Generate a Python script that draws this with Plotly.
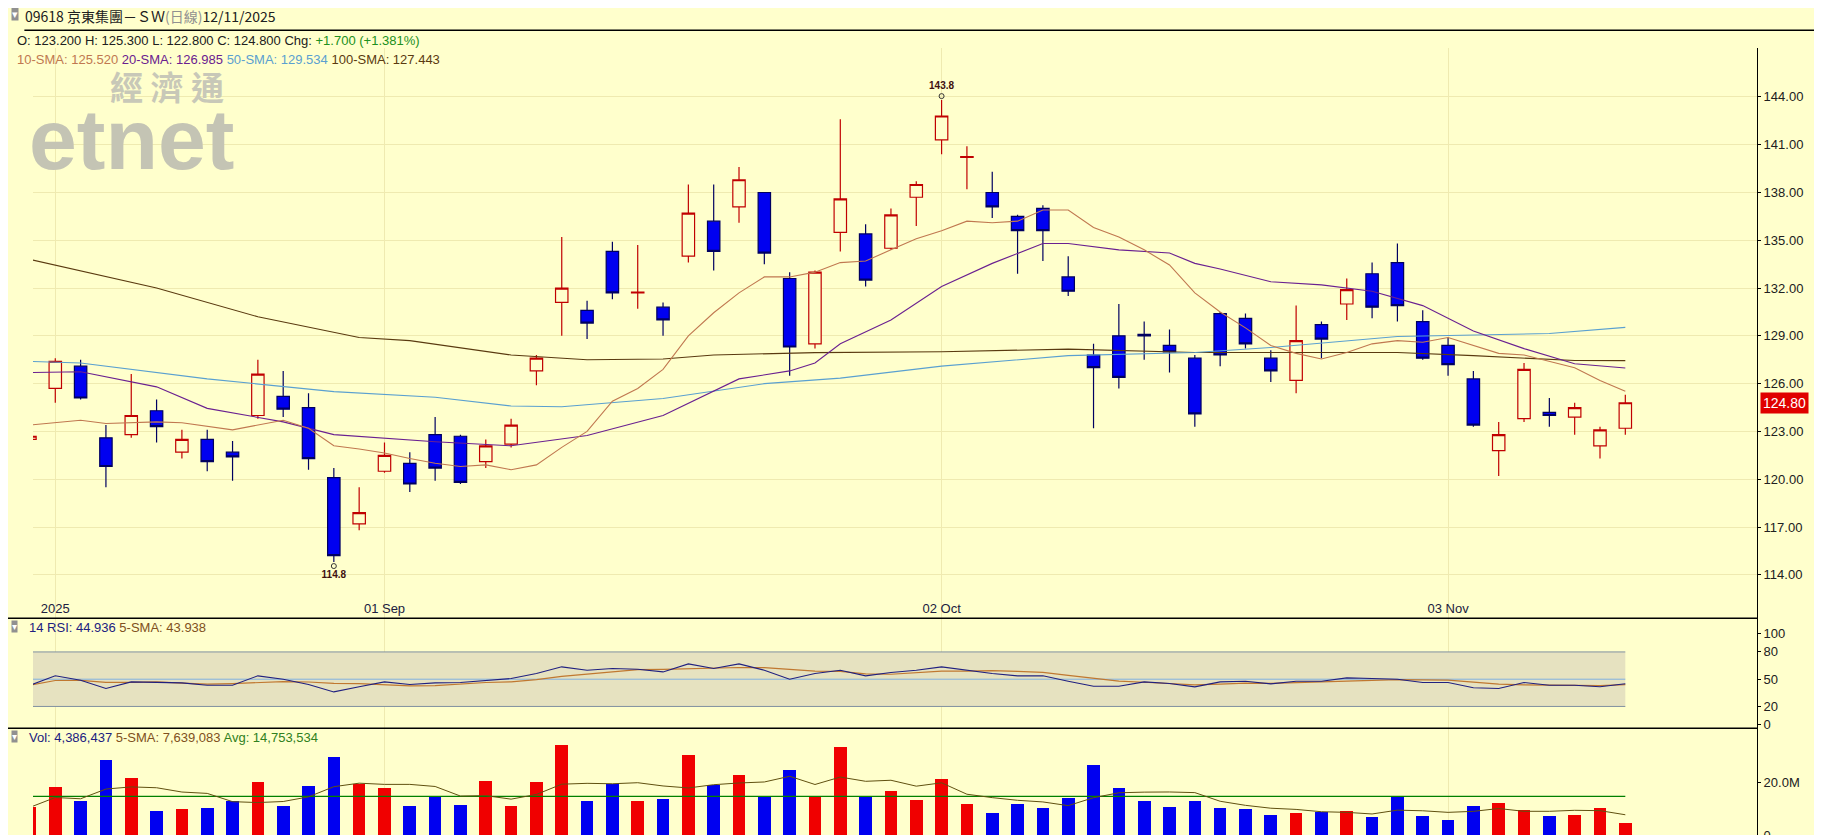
import pandas as pd
import plotly.graph_objects as go

# Días de negociación (HKEX), del 12 ago al 12 nov 2025
FECHAS = [
    "2025-08-12", "2025-08-13", "2025-08-14", "2025-08-15", "2025-08-18", "2025-08-19",
    "2025-08-20", "2025-08-21", "2025-08-22", "2025-08-25", "2025-08-26", "2025-08-27",
    "2025-08-28", "2025-08-29", "2025-09-01", "2025-09-02", "2025-09-03", "2025-09-04",
    "2025-09-05", "2025-09-08", "2025-09-09", "2025-09-10", "2025-09-11", "2025-09-12",
    "2025-09-15", "2025-09-16", "2025-09-17", "2025-09-18", "2025-09-19", "2025-09-22",
    "2025-09-23", "2025-09-24", "2025-09-25", "2025-09-26", "2025-09-29", "2025-09-30",
    "2025-10-02", "2025-10-03", "2025-10-06", "2025-10-08", "2025-10-09", "2025-10-10",
    "2025-10-13", "2025-10-14", "2025-10-15", "2025-10-16", "2025-10-17", "2025-10-20",
    "2025-10-21", "2025-10-22", "2025-10-23", "2025-10-24", "2025-10-27", "2025-10-28",
    "2025-10-30", "2025-10-31", "2025-11-03", "2025-11-04", "2025-11-05", "2025-11-06",
    "2025-11-07", "2025-11-10", "2025-11-11", "2025-11-12",
]

APERTURA = [122.5, 125.7, 127.1, 122.6, 122.8, 124.3, 121.7, 122.5, 121.7, 124.0, 125.2, 124.5,
            120.1, 117.2, 120.5, 121.0, 122.8, 122.7, 121.1, 122.2, 126.8, 131.1, 130.6, 134.3,
            131.7, 130.8, 134.0, 136.2, 137.1, 138.0, 132.6, 128.5, 135.5, 135.4, 134.5, 137.7,
            141.3, 140.2, 138.0, 136.5, 137.0, 132.7, 127.8, 129.0, 129.1, 128.4, 127.6, 130.4,
            130.1, 127.6, 126.2, 129.7, 131.0, 132.9, 133.6, 129.9, 128.4, 126.3, 121.8, 123.8,
            124.2, 123.9, 122.1, 123.2]
MAXIMO = [122.8, 127.6, 127.5, 123.4, 126.6, 125.0, 123.1, 123.1, 122.4, 127.5, 126.8, 125.4,
          120.7, 119.5, 122.3, 121.7, 123.9, 122.8, 122.5, 123.8, 127.8, 135.2, 131.2, 134.9,
          134.7, 131.1, 138.5, 138.5, 139.6, 138.0, 133.0, 133.1, 142.6, 136.0, 137.0, 138.7,
          143.8, 140.9, 139.3, 136.6, 137.2, 134.0, 128.5, 131.0, 129.9, 129.4, 127.8, 130.5,
          130.4, 128.1, 130.9, 129.9, 132.6, 133.6, 134.8, 130.6, 128.9, 126.8, 123.6, 127.3,
          125.1, 124.8, 123.3, 125.3]
MINIMO = [122.3, 124.8, 125.0, 119.5, 122.6, 122.3, 121.3, 120.5, 119.9, 123.8, 123.9, 120.6,
          114.8, 116.8, 120.4, 119.2, 119.9, 119.7, 120.7, 122.0, 125.9, 129.0, 128.8, 131.3,
          130.7, 129.0, 133.6, 133.1, 136.1, 133.5, 126.5, 128.2, 134.3, 132.1, 134.4, 135.9,
          140.4, 138.2, 136.4, 132.9, 133.7, 131.5, 123.2, 125.7, 127.5, 126.7, 123.3, 127.1,
          128.2, 126.1, 125.4, 127.6, 130.0, 130.1, 129.9, 127.5, 126.5, 123.3, 120.2, 123.6,
          123.3, 122.8, 121.3, 122.8]
CIERRE = [122.7, 127.4, 125.1, 120.8, 124.0, 123.3, 122.5, 121.1, 121.4, 126.6, 124.4, 121.3,
          115.2, 117.9, 121.5, 119.7, 120.7, 119.8, 122.1, 123.4, 127.6, 132.0, 129.8, 131.7,
          131.75, 130.0, 136.7, 134.3, 138.8, 134.2, 128.3, 133.0, 137.6, 132.5, 136.6, 138.5,
          142.8, 140.25, 137.1, 135.6, 135.6, 131.8, 127.0, 126.4, 129.0, 128.0, 124.1, 127.8,
          128.5, 126.8, 128.7, 128.8, 131.9, 130.8, 130.9, 127.6, 127.2, 123.4, 122.8, 126.9,
          124.0, 124.5, 123.1, 124.8]

# Medias móviles: (índice, valor)
SMA10 = [(0, 123.4), (2, 123.7), (3, 123.5), (5, 123.6), (6, 123.55), (8, 123.1), (10, 123.7),
         (11, 123.2), (12, 122.1), (13, 121.9), (14, 121.65), (15, 121.3), (16, 121.0),
         (17, 120.8), (18, 120.9), (19, 120.6), (20, 120.9), (21, 122.0), (22, 123.0),
         (23, 124.9), (24, 125.7), (25, 126.9), (26, 129.0), (27, 130.45), (28, 131.7),
         (29, 132.7), (30, 132.7), (31, 133.0), (32, 133.6), (33, 133.7), (34, 134.4),
         (35, 135.1), (36, 135.6), (37, 136.2), (38, 136.1), (39, 136.2), (40, 136.9),
         (41, 136.9), (42, 135.8), (43, 135.2), (44, 134.4), (45, 133.45), (46, 131.7),
         (47, 130.5), (48, 129.5), (49, 128.4), (50, 127.9), (51, 127.55), (52, 127.96),
         (53, 128.5), (54, 128.7), (55, 128.6), (56, 128.9), (57, 128.4), (58, 127.9),
         (59, 127.8), (60, 127.4), (61, 127.0), (62, 126.2), (63, 125.52)]
SMA20 = [(0, 126.7), (2, 126.75), (5, 125.8), (7, 124.45), (10, 123.6), (12, 122.8),
         (16, 122.35), (19, 122.1), (22, 122.75), (25, 124.0), (28, 126.3), (30, 126.8),
         (31, 127.3), (32, 128.5), (34, 130.0), (36, 132.1), (38, 133.55), (40, 134.8),
         (41, 134.8), (43, 134.4), (45, 134.2), (46, 133.55), (47, 133.2), (49, 132.4),
         (51, 132.2), (53, 131.8), (55, 130.9), (57, 129.3), (59, 128.2), (61, 127.25),
         (63, 126.985)]
SMA50 = [(0, 127.4), (2, 127.3), (7, 126.3), (12, 125.5), (16, 125.15), (19, 124.6),
         (21, 124.55), (25, 125.07), (29, 126.0), (32, 126.35), (36, 127.1), (41, 127.76),
         (46, 127.96), (49, 128.27), (54, 128.96), (60, 129.15), (63, 129.534)]
SMA100 = [(0, 133.8), (5, 132.0), (9, 130.2), (13, 128.9), (15, 128.7), (19, 127.8),
          (22, 127.5), (25, 127.55), (27, 127.8), (31, 127.95), (36, 128.0), (41, 128.17),
          (46, 127.96), (54, 127.96), (57, 127.76), (61, 127.45), (63, 127.443)]

RSI = [43.4, 53.7, 48.9, 39.7, 47.0, 46.3, 46.0, 43.4, 43.4, 53.7, 50.0, 44.1, 36.0, 41.6,
       47.0, 44.1, 46.0, 46.3, 48.5, 50.7, 56.2, 63.6, 59.9, 61.7, 61.0, 58.0, 66.8, 61.7,
       66.8, 59.9, 50.0, 56.2, 59.9, 53.7, 57.3, 59.9, 63.6, 59.9, 56.2, 53.7, 53.7, 47.8,
       42.3, 42.3, 47.0, 45.2, 41.6, 47.0, 47.8, 44.9, 47.8, 47.8, 51.5, 50.7, 50.0, 46.3,
       46.3, 40.5, 39.7, 46.3, 43.4, 43.4, 41.6, 44.936]

VOLUMEN = [10.6, 18.1, 12.9, 28.7, 21.7, 9.0, 9.9, 10.3, 12.9, 20.0, 11.0, 18.8, 29.7, 19.6,
           17.7, 11.0, 14.8, 11.4, 20.4, 11.0, 20.0, 34.4, 13.0, 19.6, 13.0, 13.8, 30.6, 19.2,
           22.9, 14.9, 24.7, 14.9, 33.4, 14.8, 16.9, 13.4, 21.3, 11.6, 8.3, 11.8, 10.3, 14.2,
           26.8, 17.7, 13.0, 10.6, 13.0, 10.3, 9.9, 7.5, 8.3, 8.6, 9.1, 6.8, 14.8, 7.1, 5.6,
           11.0, 12.2, 9.5, 7.1, 7.5, 10.3, 4.386437]
DIR_VOLUMEN = "RRBBRBRBBRBBBRRBBBRRRRBBRBRBRBBRRBRRRRBBBBBBBBBBBBRBRBBBBBRRBRRR"
VOL_PROMEDIO = 14.753534

ETIQUETAS_X = {"2025-08-13": "2025", "2025-09-01": "01 Sep", "2025-10-02": "02 Oct",
               "2025-11-03": "03 Nov"}

FONDO = "#FFFFCC"
REJILLA = "#EFEAB0"
FUENTE = "Liberation Sans"
D1 = 0.279   # límite precio / RSI
D2 = 0.140   # límite RSI / volumen


def main():
    df = pd.DataFrame({"o": APERTURA, "h": MAXIMO, "l": MINIMO, "c": CIERRE}, index=FECHAS)
    rsi_sma = pd.Series(RSI).rolling(5, min_periods=1).mean()
    vol_sma = pd.Series(VOLUMEN).rolling(5, min_periods=1).mean()

    fig = go.Figure()

    fig.add_trace(go.Candlestick(
        x=FECHAS, open=df["o"], high=df["h"], low=df["l"], close=df["c"],
        increasing=dict(line=dict(color="#C00000", width=1.2), fillcolor=FONDO),
        decreasing=dict(line=dict(color="#000060", width=1.2), fillcolor="#0000F0"),
        whiskerwidth=0, xaxis="x", yaxis="y", hoverinfo="skip",
    ))

    for datos, color in [(SMA100, "#5A3A10"), (SMA50, "#5AA0D0"), (SMA20, "#6A2090"),
                         (SMA10, "#C07850")]:
        fig.add_trace(go.Scatter(
            x=[FECHAS[i] for i, _ in datos], y=[v for _, v in datos], mode="lines",
            line=dict(color=color, width=1.1), xaxis="x", yaxis="y"))

    # Marcas del máximo y mínimo
    i_max = df["h"].values.argmax()
    i_min = df["l"].values.argmin()
    fig.add_trace(go.Scatter(
        x=[FECHAS[i_max], FECHAS[i_min]], y=[MAXIMO[i_max] + 0.25, MINIMO[i_min] - 0.25],
        mode="markers+text", marker=dict(symbol="circle-open", size=5, color="#333"),
        text=[f"<b>{MAXIMO[i_max]}</b>", f"<b>{MINIMO[i_min]}</b>"],
        textposition=["top center", "bottom center"],
        textfont=dict(size=10, color="#401010", family=FUENTE), xaxis="x", yaxis="y"))

    # RSI
    fig.add_trace(go.Scatter(x=FECHAS, y=[80] * len(FECHAS), mode="lines",
                             line=dict(color="#8090A0", width=1), xaxis="x2", yaxis="y2"))
    fig.add_trace(go.Scatter(x=FECHAS, y=[20] * len(FECHAS), mode="lines", fill="tonexty",
                             fillcolor="#E6E2C0", line=dict(color="#8090A0", width=1),
                             xaxis="x2", yaxis="y2"))
    fig.add_trace(go.Scatter(x=FECHAS, y=[50] * len(FECHAS), mode="lines",
                             line=dict(color="#80B0E0", width=1), xaxis="x2", yaxis="y2"))
    fig.add_trace(go.Scatter(x=FECHAS, y=rsi_sma, mode="lines",
                             line=dict(color="#C07830", width=1.2), xaxis="x2", yaxis="y2"))
    fig.add_trace(go.Scatter(x=FECHAS, y=RSI, mode="lines",
                             line=dict(color="#202080", width=1.1), xaxis="x2", yaxis="y2"))

    # Volumen
    colores = ["#F00000" if d == "R" else "#0000F0" for d in DIR_VOLUMEN]
    fig.add_trace(go.Bar(x=FECHAS, y=VOLUMEN, marker_color=colores, marker_line_width=0,
                         width=0.5, xaxis="x3", yaxis="y3"))
    fig.add_trace(go.Scatter(x=FECHAS, y=[VOL_PROMEDIO] * len(FECHAS), mode="lines",
                             line=dict(color="#008000", width=1.2), xaxis="x3", yaxis="y3"))
    fig.add_trace(go.Scatter(x=FECHAS, y=vol_sma, mode="lines",
                             line=dict(color="#605010", width=1), xaxis="x3", yaxis="y3"))

    eje_x = dict(type="category", range=[0.12, 68.2], showgrid=True, gridcolor=REJILLA,
                 tickvals=list(ETIQUETAS_X), ticktext=list(ETIQUETAS_X.values()),
                 showline=False, zeroline=False, ticks="", rangeslider=dict(visible=False))
    eje_y = dict(side="right", zeroline=False, showline=True, linecolor="#000",
                 ticks="outside", ticklen=3, tickcolor="#000")
    fig.update_layout(
        xaxis=dict(eje_x, anchor="y", ticklabelposition="inside",
                   tickfont=dict(size=13, color="#202040")),
        xaxis2=dict(eje_x, anchor="y2", matches="x", showticklabels=False),
        xaxis3=dict(eje_x, anchor="y3", matches="x", showticklabels=False),
        yaxis=dict(eje_y, anchor="x", domain=[D1, 1], range=[111.27, 147.07],
                   tickvals=list(range(114, 145, 3)), tickformat=".2f", gridcolor=REJILLA),
        yaxis2=dict(eje_y, anchor="x2", domain=[D2, D1], range=[-4, 117],
                    tickvals=[0, 20, 50, 80, 100], showgrid=False),
        yaxis3=dict(eje_y, anchor="x3", domain=[0, D2], range=[-1.5, 40.8],
                    tickvals=[0, 20], ticktext=["0", "20.0M"], showgrid=False),
        width=1822, height=835,
        margin=dict(l=25, r=73, t=40, b=0),
        paper_bgcolor=FONDO, plot_bgcolor=FONDO,
        font=dict(family=FUENTE, size=13, color="#202020"),
        showlegend=False, bargap=0,
        shapes=[
            dict(type="line", xref="paper", yref="paper", x0=-0.005, x1=1.05, y0=1.0225,
                 y1=1.0225, line=dict(color="#000", width=1.5)),
            dict(type="line", xref="paper", yref="paper", x0=-0.02, x1=1, y0=D1,
                 y1=D1, line=dict(color="#000", width=1.5)),
            dict(type="line", xref="paper", yref="paper", x0=-0.02, x1=1, y0=D2,
                 y1=D2, line=dict(color="#000", width=1.5)),
        ],
    )

    anots = [
        dict(x=-0.013, y=1.052, text="▾", font=dict(size=11, color="#fff"), bgcolor="#909090"),
        dict(x=-0.005, y=1.054,
             text="09618 京東集團－ＳＷ<span style='color:#909090'>(日線)</span>12/11/2025",
             font=dict(size=14, family="Noto Sans CJK TC, " + FUENTE)),
        dict(x=-0.01, y=1.0205,
             text=("O: 123.200 H: 125.300 L: 122.800 C: 124.800 Chg: "
                   "<span style='color:#209020'>+1.700 (+1.381%)</span>")),
        dict(x=-0.01, y=0.996,
             text=("<span style='color:#C07850'>10-SMA: 125.520</span> "
                   "<span style='color:#6A2090'>20-SMA: 126.985</span> "
                   "<span style='color:#5AA0D0'>50-SMA: 129.534</span> "
                   "<span style='color:#5A3A10'>100-SMA: 127.443</span>")),
        dict(x=0.044, y=0.984, text="<b>經 濟 通</b>", font=dict(size=33, color="#C8C8B8",
                                                           family="Noto Sans CJK TC")),
        dict(x=-0.003, y=0.947, text="<b>etnet</b>", font=dict(size=86, color="#C4C4B4")),
        dict(x=-0.013, y=D1 - 0.002, text="▾", font=dict(size=10, color="#fff"),
             bgcolor="#909090"),
        dict(x=-0.003, y=D1 - 0.001,
             text=("<span style='color:#202080'>14 RSI: 44.936</span> "
                   "<span style='color:#805020'>5-SMA: 43.938</span>")),
        dict(x=-0.013, y=D2 - 0.002, text="▾", font=dict(size=10, color="#fff"),
             bgcolor="#909090"),
        dict(x=-0.003, y=D2 - 0.001,
             text=("<span style='color:#202080'>Vol: 4,386,437</span> "
                   "<span style='color:#805020'>5-SMA: 7,639,083</span> "
                   "<span style='color:#308020'>Avg: 14,753,534</span>")),
    ]
    for a in anots:
        a.setdefault("font", dict(size=13))
        fig.add_annotation(xref="paper", yref="paper", xanchor="left", yanchor="top",
                           showarrow=False, borderpad=0, **a)

    # Etiqueta del último precio
    fig.add_annotation(xref="paper", yref="y", x=1.002, y=CIERRE[-1], xanchor="left",
                       text=f"{CIERRE[-1]:.2f}", showarrow=False, bgcolor="#E00000",
                       font=dict(color="white", size=14), borderpad=2)

    fig.write_html("out.html")


if __name__ == "__main__":
    main()
